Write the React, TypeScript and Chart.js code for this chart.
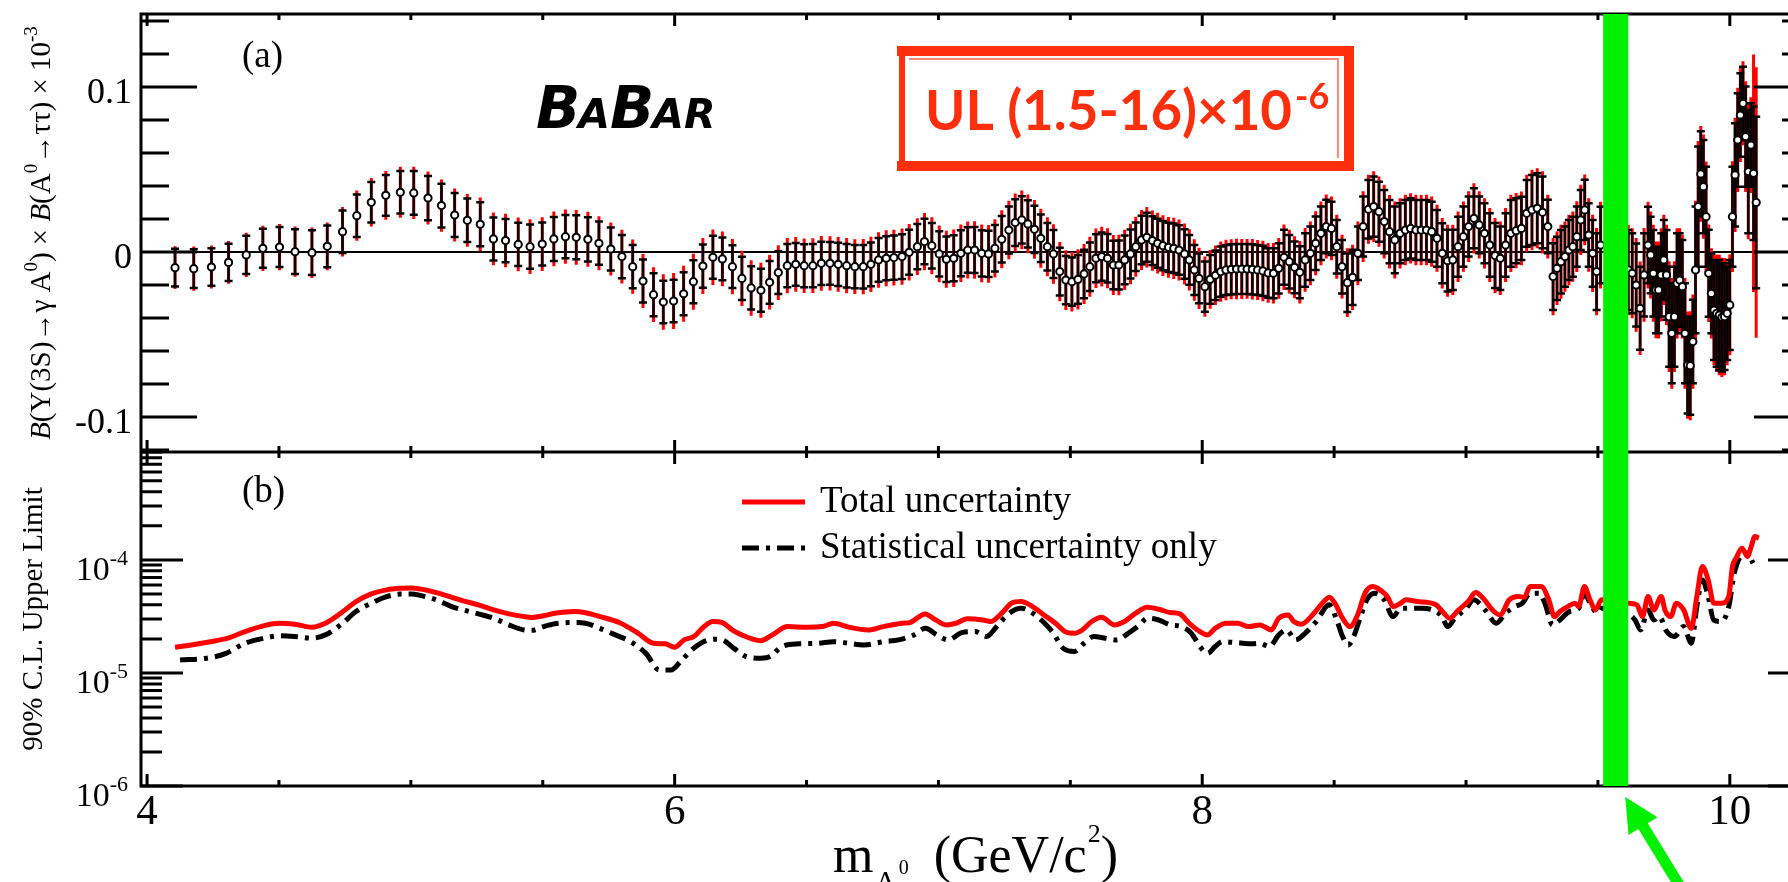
import React, { useEffect, useRef } from 'react';
import { Chart, registerables } from 'chart.js';

Chart.register(...registerables);

// ---------------------------------------------------------------------------
// (a) B(Υ(3S)→γA0)×B(A0→ττ) scan, in units of 10^-3
// ---------------------------------------------------------------------------
const MASS_A = [
  4.106, 4.177, 4.244, 4.309, 4.376, 4.439, 4.502, 4.561, 4.625, 4.683,
  4.741, 4.795, 4.850, 4.905, 4.960, 5.011, 5.065, 5.116, 5.166, 5.214,
  5.263, 5.313, 5.359, 5.407, 5.452, 5.498, 5.542, 5.586, 5.627, 5.671, 5.713,
  5.758, 5.800, 5.841, 5.880, 5.920, 5.957, 5.996, 6.034, 6.071, 6.107,
  6.145, 6.181, 6.219, 6.255, 6.290, 6.327, 6.360, 6.393, 6.427, 6.459,
  6.491, 6.524, 6.556, 6.589, 6.620, 6.652, 6.683, 6.715, 6.744, 6.773,
  6.802, 6.831, 6.862, 6.889, 6.920, 6.947, 6.975, 7.003, 7.030, 7.058,
  7.085, 7.111, 7.137, 7.164, 7.190, 7.214, 7.240, 7.267, 7.291, 7.316,
  7.339, 7.364, 7.388, 7.413, 7.436, 7.460, 7.483, 7.506, 7.529, 7.552,
  7.574, 7.597, 7.619, 7.641, 7.663, 7.684, 7.706, 7.728, 7.748, 7.770,
  7.790, 7.811, 7.831, 7.851, 7.872, 7.892, 7.912, 7.933, 7.951, 7.970, 7.988,
  8.01, 8.03, 8.05, 8.07, 8.09, 8.11, 8.13, 8.15, 8.17, 8.19,
  8.21, 8.23, 8.25, 8.27, 8.29, 8.31, 8.33, 8.35, 8.37, 8.39,
  8.41, 8.43, 8.45, 8.47, 8.49, 8.51, 8.53, 8.55, 8.57, 8.59,
  8.61, 8.63, 8.65, 8.67, 8.69, 8.71, 8.73, 8.75, 8.77, 8.79,
  8.81, 8.83, 8.85, 8.87, 8.89, 8.91, 8.93, 8.95, 8.97, 8.99,
  9.01, 9.03, 9.05, 9.07, 9.09, 9.11, 9.13, 9.15, 9.17, 9.19,
  9.21, 9.23, 9.25, 9.27, 9.29, 9.31,
  9.33, 9.345, 9.36, 9.375, 9.39, 9.405, 9.42, 9.435, 9.45, 9.465, 9.48, 9.495, 9.51,
  9.615, 9.63, 9.645, 9.66, 9.675, 9.69,
  9.70, 9.71, 9.72, 9.73, 9.74, 9.75, 9.76, 9.77, 9.78, 9.79,
  9.80, 9.81, 9.82, 9.83, 9.84, 9.85, 9.86, 9.87, 9.88, 9.89,
  9.90, 9.91, 9.92, 9.93, 9.94, 9.95, 9.96, 9.97, 9.98, 9.99,
  10.00, 10.01, 10.02, 10.03, 10.04, 10.05, 10.06, 10.07, 10.08, 10.09, 10.10,
];

const BF_A = [
  -0.0095, -0.0101, -0.0091, -0.0063, -0.0018, 0.0022, 0.0030, 0.0002, -0.0004, 0.0034,
  0.0123, 0.0220, 0.0301, 0.0343, 0.0362, 0.0358, 0.0327, 0.0281, 0.0224, 0.0192,
  0.0168, 0.0079, 0.0069, 0.0046, 0.0032, 0.0048, 0.0079, 0.0093, 0.0089, 0.0077, 0.0053,
  0.0018, -0.0028, -0.0089, -0.0176, -0.0259, -0.0303, -0.0297, -0.0253, -0.0180, -0.0085,
  -0.0032, -0.0042, -0.0089, -0.0160, -0.0218, -0.0232, -0.0184, -0.0125, -0.0083, -0.0075,
  -0.0083, -0.0083, -0.0069, -0.0069, -0.0075, -0.0083, -0.0089, -0.0089, -0.0075, -0.0048,
  -0.0038, -0.0034, -0.0028, -0.0002, 0.0032, 0.0063, 0.0038, -0.0012, -0.0044, -0.0038,
  -0.0008, 0.0012, 0.0012, -0.0008, -0.0012, 0.0022, 0.0077, 0.0133, 0.0178, 0.0194,
  0.0170, 0.0137, 0.0083, 0.0032, -0.0012, -0.0119, -0.0170, -0.0180, -0.0166, -0.0133,
  -0.0089, -0.0038, -0.0028, -0.0038, -0.0079, -0.0079, -0.0048, -0.0012, 0.0032, 0.0073,
  0.0089, 0.0069, 0.0053, 0.0038, 0.0028, 0.0022, 0.0012, -0.0012, -0.0048, -0.0109, -0.0160,
  -0.0210, -0.0166, -0.0141, -0.0119, -0.0109, -0.0105, -0.0103, -0.0103, -0.0103, -0.0105,
  -0.0109, -0.0115, -0.0127, -0.0129, -0.0099, -0.0032, -0.0059, -0.0093, -0.0123, -0.0048,
  -0.0008, 0.0053, 0.0113, 0.0154, 0.0143, 0.0032, -0.0089, -0.0186, -0.0154, -0.0008,
  0.0154, 0.0259, 0.0275, 0.0244, 0.0184, 0.0123, 0.0073, 0.0113, 0.0133, 0.0143,
  0.0133, 0.0133, 0.0133, 0.0123, 0.0083, -0.0008, -0.0053, -0.0048, 0.0032, 0.0093,
  0.0154, 0.0204, 0.0164, 0.0113, 0.0042, -0.0022, -0.0038, 0.0042, 0.0113, 0.0129,
  0.0143, 0.0234, 0.0255, 0.0265, 0.0240, 0.0154,
  -0.0149, -0.0099, -0.0059, -0.0028, 0.0012, 0.0032, 0.0093, 0.0194, 0.0255, 0.0103, -0.0008, -0.0119, 0.0042,
  -0.0109, -0.0129, -0.0200, -0.0341, -0.0139, 0.0042,
  -0.0018, -0.0129, -0.0230, -0.0230, -0.0139, -0.0048, -0.0139, -0.0392, -0.0493, -0.0392,
  -0.0190, -0.0170, -0.0210, -0.0493, -0.0685, -0.0689, -0.0543, -0.0109, 0.0275, 0.0473,
  0.0396, 0.0214, -0.0129, -0.0251, -0.0352, -0.0372, -0.0382, -0.0396, -0.0392, -0.0372,
  -0.0321, 0.0214, 0.0467, 0.0679, 0.0830, 0.0901, 0.0699, 0.0487, 0.0648, 0.0477, 0.0300,
];

// statistical uncertainty (black bars)
const STAT_A = [
  0.0114, 0.0118, 0.0114, 0.0113, 0.0116, 0.0118, 0.0121, 0.0135, 0.0136, 0.0126,
  0.0129, 0.0129, 0.0123, 0.0123, 0.0129, 0.0132, 0.0134, 0.0132, 0.0133, 0.0132,
  0.0133, 0.0130, 0.0131, 0.0131, 0.0134, 0.0130, 0.0133, 0.0131, 0.0133, 0.0134, 0.0131,
  0.0130, 0.0131, 0.0131, 0.0130, 0.0130, 0.0129, 0.0129, 0.0130, 0.0130, 0.0131,
  0.0130, 0.0129, 0.0130, 0.0131, 0.0131, 0.0130, 0.0129, 0.0130, 0.0131, 0.0130,
  0.0130, 0.0131, 0.0131, 0.0130, 0.0131, 0.0132, 0.0131, 0.0132, 0.0133, 0.0133,
  0.0134, 0.0134, 0.0135, 0.0136, 0.0137, 0.0138, 0.0138, 0.0137, 0.0138, 0.0139,
  0.0139, 0.0138, 0.0139, 0.0140, 0.0140, 0.0141, 0.0141, 0.0142, 0.0142, 0.0143,
  0.0143, 0.0143, 0.0144, 0.0144, 0.0145, 0.0145, 0.0146, 0.0146, 0.0147, 0.0147,
  0.0147, 0.0146, 0.0146, 0.0147, 0.0147, 0.0148, 0.0148, 0.0148, 0.0147, 0.0147,
  0.0148, 0.0148, 0.0149, 0.0149, 0.0149, 0.0150, 0.0150, 0.0150, 0.0151, 0.0151, 0.0151,
  0.0152, 0.0148, 0.0150, 0.0152, 0.0152, 0.0152, 0.0152, 0.0152, 0.0151, 0.0152,
  0.0152, 0.0152, 0.0150, 0.0152, 0.0152, 0.0167, 0.0162, 0.0157, 0.0157, 0.0162,
  0.0162, 0.0162, 0.0162, 0.0162, 0.0162, 0.0162, 0.0162, 0.0177, 0.0167, 0.0162,
  0.0182, 0.0177, 0.0182, 0.0182, 0.0192, 0.0192, 0.0202, 0.0182, 0.0182, 0.0182,
  0.0182, 0.0182, 0.0182, 0.0182, 0.0172, 0.0182, 0.0187, 0.0182, 0.0182, 0.0182,
  0.0182, 0.0182, 0.0172, 0.0182, 0.0192, 0.0197, 0.0192, 0.0192, 0.0202, 0.0197,
  0.0192, 0.0202, 0.0212, 0.0212, 0.0217, 0.0162,
  0.0202, 0.0192, 0.0192, 0.0182, 0.0182, 0.0182, 0.0182, 0.0182, 0.0182, 0.0192, 0.0202, 0.0232, 0.0232,
  0.0242, 0.0242, 0.0252, 0.0252, 0.0252, 0.0232,
  0.0232, 0.0262, 0.0262, 0.0262, 0.0252, 0.0242, 0.0272, 0.0303, 0.0303, 0.0303,
  0.0303, 0.0283, 0.0283, 0.0303, 0.0293, 0.0298, 0.0253, 0.0384, 0.0364, 0.0258,
  0.0283, 0.0303, 0.0263, 0.0242, 0.0303, 0.0323, 0.0333, 0.0328, 0.0323, 0.0283,
  0.0273, 0.0303, 0.0313, 0.0283, 0.0253, 0.0222, 0.0303, 0.0374, 0.0253, 0.0404, 0.0520,
];

// total (stat + syst) uncertainty (red bars)
const TOT_A = [
  0.0130, 0.0134, 0.0131, 0.0130, 0.0134, 0.0137, 0.0140, 0.0152, 0.0153, 0.0145,
  0.0150, 0.0152, 0.0147, 0.0148, 0.0155, 0.0158, 0.0160, 0.0158, 0.0160, 0.0160,
  0.0162, 0.0160, 0.0162, 0.0163, 0.0166, 0.0163, 0.0166, 0.0164, 0.0166, 0.0167, 0.0164,
  0.0160, 0.0163, 0.0164, 0.0164, 0.0166, 0.0168, 0.0169, 0.0170, 0.0170, 0.0170,
  0.0168, 0.0166, 0.0167, 0.0168, 0.0168, 0.0167, 0.0165, 0.0166, 0.0167, 0.0166,
  0.0165, 0.0166, 0.0166, 0.0165, 0.0166, 0.0167, 0.0166, 0.0167, 0.0168, 0.0168,
  0.0169, 0.0169, 0.0170, 0.0171, 0.0172, 0.0173, 0.0173, 0.0172, 0.0173, 0.0174,
  0.0174, 0.0173, 0.0174, 0.0175, 0.0175, 0.0176, 0.0176, 0.0177, 0.0177, 0.0178,
  0.0178, 0.0178, 0.0179, 0.0179, 0.0180, 0.0180, 0.0181, 0.0181, 0.0182, 0.0182,
  0.0182, 0.0181, 0.0181, 0.0182, 0.0182, 0.0183, 0.0183, 0.0183, 0.0182, 0.0182,
  0.0183, 0.0183, 0.0184, 0.0184, 0.0184, 0.0185, 0.0185, 0.0185, 0.0186, 0.0186, 0.0186,
  0.0182, 0.0178, 0.0180, 0.0182, 0.0183, 0.0182, 0.0183, 0.0182, 0.0181, 0.0183,
  0.0182, 0.0183, 0.0181, 0.0183, 0.0184, 0.0198, 0.0193, 0.0188, 0.0189, 0.0193,
  0.0193, 0.0194, 0.0193, 0.0194, 0.0193, 0.0194, 0.0193, 0.0208, 0.0198, 0.0193,
  0.0214, 0.0209, 0.0214, 0.0213, 0.0223, 0.0223, 0.0233, 0.0213, 0.0214, 0.0213,
  0.0214, 0.0213, 0.0214, 0.0213, 0.0203, 0.0214, 0.0218, 0.0213, 0.0214, 0.0213,
  0.0214, 0.0213, 0.0204, 0.0213, 0.0224, 0.0228, 0.0223, 0.0224, 0.0234, 0.0228,
  0.0224, 0.0234, 0.0244, 0.0243, 0.0249, 0.0193,
  0.0234, 0.0223, 0.0224, 0.0213, 0.0214, 0.0213, 0.0214, 0.0213, 0.0214, 0.0223, 0.0234, 0.0264, 0.0263,
  0.0274, 0.0273, 0.0284, 0.0283, 0.0284, 0.0263,
  0.0264, 0.0294, 0.0293, 0.0294, 0.0283, 0.0274, 0.0304, 0.0336, 0.0335, 0.0336,
  0.0334, 0.0314, 0.0315, 0.0336, 0.0325, 0.0330, 0.0285, 0.0420, 0.0398, 0.0290,
  0.0316, 0.0335, 0.0295, 0.0274, 0.0335, 0.0356, 0.0365, 0.0361, 0.0355, 0.0315,
  0.0305, 0.0336, 0.0346, 0.0316, 0.0285, 0.0255, 0.0336, 0.0410, 0.0290, 0.0720, 0.0820,
];

// ---------------------------------------------------------------------------
// (b) 90% C.L. upper limits, in units of 10^-5
// ---------------------------------------------------------------------------
const UL_UNIT = 1e-5;

const UL_TOT_MASS = [
  4.106, 4.168, 4.241, 4.306, 4.371, 4.444, 4.502, 4.560, 4.625, 4.676,
  4.734, 4.792, 4.850, 4.908, 4.966, 5.002, 5.039, 5.097, 5.155, 5.198,
  5.256, 5.314, 5.372, 5.430, 5.459, 5.503, 5.546, 5.619, 5.662,
  5.717, 5.790, 5.862, 5.920, 5.964, 6.000, 6.036, 6.073, 6.109, 6.145,
  6.181, 6.218, 6.254, 6.327, 6.370, 6.428, 6.501, 6.559, 6.602, 6.660,
  6.733, 6.791, 6.863, 6.892, 6.950, 6.979, 7.030, 7.066, 7.110, 7.168,
  7.197, 7.240, 7.277, 7.313, 7.357, 7.400, 7.444, 7.480, 7.516, 7.545,
  7.581, 7.618, 7.668, 7.705, 7.748, 7.792, 7.835, 7.879, 7.915, 7.951,
  7.992, 8.020, 8.049, 8.091, 8.134, 8.176, 8.219, 8.262, 8.290, 8.326,
  8.347, 8.375, 8.418, 8.461, 8.482, 8.503, 8.532, 8.560, 8.589, 8.617,
  8.646, 8.674, 8.702, 8.724, 8.752, 8.773, 8.816, 8.859, 8.887, 8.916,
  8.937, 8.972, 9.008, 9.036, 9.065, 9.100, 9.129, 9.164, 9.200, 9.221,
  9.243, 9.285, 9.314, 9.335, 9.356, 9.385, 9.413, 9.427, 9.449, 9.470,
  9.491, 9.513, 9.612, 9.648, 9.669, 9.690, 9.712, 9.740, 9.754, 9.776,
  9.797, 9.825, 9.854, 9.875, 9.896, 9.918, 9.939, 9.968, 9.996, 10.010,
  10.024, 10.046, 10.067, 10.081, 10.095, 10.110,
];
const UL_TOT = [
  1.69, 1.77, 1.89, 2.03, 2.32, 2.62, 2.75, 2.70, 2.54, 2.75,
  3.37, 4.28, 5.00, 5.43, 5.61, 5.65, 5.51, 5.14, 4.67, 4.34,
  4.00, 3.61, 3.33, 3.15, 3.10, 3.21, 3.37, 3.49, 3.41,
  3.15, 2.79, 2.24, 1.83, 1.81, 1.69, 1.96, 2.10, 2.54, 2.85,
  2.79, 2.40, 2.17, 1.93, 2.17, 2.57, 2.54, 2.57, 2.75, 2.54,
  2.40, 2.57, 2.75, 2.79, 3.33, 3.05, 2.66, 2.75, 3.01, 2.94,
  2.85, 3.38, 4.14, 4.28, 3.86, 3.26, 2.75, 2.32, 2.24, 2.40,
  2.85, 3.11, 2.66, 2.85, 3.38, 3.81, 3.66, 3.42, 3.33, 2.75,
  2.32, 2.17, 2.48, 2.75, 2.75, 2.57, 2.66, 2.40, 3.05, 3.26,
  2.85, 2.70, 3.26, 4.28, 4.68, 4.14, 3.05, 2.57, 3.26, 5.07,
  5.81, 5.43, 4.74, 3.86, 4.14, 4.43, 4.28, 4.19, 4.00, 3.38,
  3.05, 3.61, 4.28, 5.14, 4.58, 3.61, 3.26, 4.43, 4.74, 4.68,
  5.81, 5.81, 4.43, 3.15, 3.49, 3.86, 4.14, 3.86, 5.81, 4.43,
  3.61, 4.43, 4.14, 4.00, 3.15, 4.74, 3.61, 4.74, 3.61, 3.15,
  4.14, 3.61, 2.48, 4.74, 8.73, 6.65, 4.14, 4.14, 4.74, 8.73,
  10.35, 12.7, 10.7, 13.1, 16.1, 15.6,
];

const UL_STAT_MASS = [
  4.125, 4.226, 4.299, 4.371, 4.444, 4.502, 4.560, 4.625, 4.676, 4.734,
  4.792, 4.850, 4.908, 4.966, 5.002, 5.039, 5.097, 5.155, 5.198, 5.256,
  5.314, 5.372, 5.430, 5.459, 5.503, 5.546, 5.619, 5.662,
  5.717, 5.761, 5.833, 5.891, 5.942, 5.986, 6.022, 6.065, 6.109, 6.152,
  6.181, 6.225, 6.269, 6.327, 6.363, 6.406, 6.472, 6.544, 6.602, 6.660,
  6.718, 6.791, 6.849, 6.907, 6.950, 6.994, 7.037, 7.088, 7.139, 7.182,
  7.226, 7.269, 7.313, 7.357, 7.400, 7.436, 7.473, 7.516, 7.552, 7.589,
  7.632, 7.676, 7.719, 7.763, 7.792, 7.835, 7.879, 7.922, 7.959,
  7.992, 8.020, 8.049, 8.077, 8.134, 8.191, 8.219, 8.255, 8.290, 8.319,
  8.354, 8.390, 8.432, 8.482, 8.510, 8.532, 8.553, 8.574, 8.596, 8.624,
  8.653, 8.688, 8.724, 8.752, 8.788, 8.830, 8.873, 8.909, 8.930, 8.958,
  9.001, 9.029, 9.072, 9.115, 9.150, 9.186, 9.214, 9.243, 9.278, 9.299,
  9.328, 9.356, 9.392, 9.427, 9.449, 9.470, 9.498, 9.513, 9.612, 9.641,
  9.662, 9.690, 9.712, 9.733, 9.761, 9.790, 9.825, 9.854, 9.875, 9.896,
  9.918, 9.939, 9.968, 9.996, 10.017, 10.046, 10.067, 10.088,
];
const UL_STAT = [
  1.30, 1.35, 1.49, 1.83, 2.03, 2.13, 2.10, 2.03, 2.17, 2.66,
  3.49, 4.14, 4.73, 5.00, 5.00, 4.83, 4.43, 3.86, 3.61, 3.33,
  3.05, 2.66, 2.40, 2.38, 2.57, 2.72, 2.79, 2.75,
  2.48, 2.24, 1.89, 1.49, 1.06, 1.06, 1.26, 1.60, 1.89, 1.99,
  1.96, 1.65, 1.40, 1.35, 1.40, 1.71, 1.81, 1.83, 1.89, 1.83,
  1.77, 1.89, 1.96, 2.17, 2.48, 2.17, 1.96, 2.27, 2.32, 2.10,
  2.66, 3.38, 3.73, 3.38, 2.79, 2.24, 1.65, 1.55, 1.83, 2.10,
  2.03, 1.96, 2.24, 2.66, 3.05, 2.94, 2.66, 2.57, 2.24,
  1.70, 1.49, 1.71, 1.89, 1.85, 1.81, 1.83, 1.71, 2.17, 2.40,
  1.96, 2.24, 2.85, 4.00, 2.94, 2.10, 1.77, 2.10, 2.94, 4.43,
  5.07, 4.49, 3.15, 3.73, 3.73, 3.73, 3.61, 3.15, 2.57, 3.05,
  3.73, 4.43, 3.61, 2.75, 3.38, 3.86, 4.14, 5.07, 5.07, 4.14,
  2.66, 2.94, 3.49, 3.73, 5.07, 4.14, 3.38, 3.73, 3.38, 2.94,
  2.40, 3.61, 2.94, 3.15, 2.32, 2.10, 2.57, 1.83, 3.86, 6.65,
  4.74, 2.94, 2.85, 3.86, 7.62, 11.1, 11.5, 9.35,
];

// axis ranges and labels
const X_RANGE = [3.977, 10.304];
const X_TICK_LABELS = [4, 6, 8, 10];
const YA_RANGE = [-0.1212, 0.1442];
const YA_TICK_LABELS = [0.1, 0, -0.1];
const YB_RANGE = [1e-6, 9e-4];
const YB_TICK_EXPONENTS = [-4, -5, -6];
const EXCLUDED_MASS = [9.52, 9.615];
const LEGEND_LABELS = ['Total uncertainty', 'Statistical uncertainty only'];

// ---------------------------------------------------------------------------
const CANVAS_W = 1830;
const CANVAS_H = 882;
const VIEW_W = 1788;
const SERIF = '"Liberation Serif", "DejaVu Serif", "Times New Roman", serif';
const SANS = '"Liberation Sans", Arial, sans-serif';
const LOGO_FONT = '"DejaVu Sans", "Liberation Sans", sans-serif';
const TOTAL_RED = '#ff0000';
const STAMP_RED = '#ff2e0c';
const BAND_GREEN = '#00f000';
const DASH_DOT = [17, 7, 4, 7];

type Run = { t: string; size: number; dy?: number; dx?: number; italic?: boolean; bold?: boolean };

function runFont(r: Run, family: string) {
  return `${r.italic ? 'italic ' : ''}${r.bold ? 'bold ' : ''}${r.size}px ${family}`;
}
function runsWidth(ctx: CanvasRenderingContext2D, runs: Run[], family: string) {
  let w = 0;
  for (const r of runs) {
    ctx.font = runFont(r, family);
    w += (r.dx || 0) + ctx.measureText(r.t).width;
  }
  return w;
}
function drawRuns(ctx: CanvasRenderingContext2D, runs: Run[], family: string, x: number, y: number) {
  let cx = x;
  ctx.textAlign = 'left';
  ctx.textBaseline = 'alphabetic';
  for (const r of runs) {
    ctx.font = runFont(r, family);
    cx += r.dx || 0;
    ctx.fillText(r.t, cx, y + (r.dy || 0));
    cx += ctx.measureText(r.t).width;
  }
}
function seg(ctx: CanvasRenderingContext2D, x1: number, y1: number, x2: number, y2: number) {
  ctx.moveTo(x1, y1);
  ctx.lineTo(x2, y2);
}

const errorBarPlugin = {
  id: 'errorBars',
  beforeDatasetsDraw(chart: any) {
    const { ctx, chartArea: ca } = chart;
    const xs = chart.scales.x;
    const ya = chart.scales.yA;
    const n = Math.min(MASS_A.length, BF_A.length, STAT_A.length, TOT_A.length);
    ctx.save();
    ctx.beginPath();
    ctx.rect(ca.left, ya.top, ca.right - ca.left, ya.bottom - ya.top);
    ctx.clip();

    // y = 0 reference line
    const y0 = ya.getPixelForValue(0);
    ctx.strokeStyle = '#000';
    ctx.lineWidth = 2;
    ctx.beginPath();
    seg(ctx, ca.left, y0, ca.right, y0);
    ctx.stroke();

    // total uncertainty
    ctx.strokeStyle = TOTAL_RED;
    ctx.lineWidth = 3;
    ctx.beginPath();
    for (let i = 0; i < n; i++) {
      const x = xs.getPixelForValue(MASS_A[i]);
      seg(ctx, x, ya.getPixelForValue(BF_A[i] + TOT_A[i]), x, ya.getPixelForValue(BF_A[i] - TOT_A[i]));
    }
    ctx.stroke();

    // statistical uncertainty with end caps
    ctx.strokeStyle = '#000';
    ctx.lineWidth = 2.5;
    ctx.beginPath();
    for (let i = 0; i < n; i++) {
      const x = xs.getPixelForValue(MASS_A[i]);
      const yt = ya.getPixelForValue(BF_A[i] + STAT_A[i]);
      const yb = ya.getPixelForValue(BF_A[i] - STAT_A[i]);
      seg(ctx, x, yt, x, yb);
      seg(ctx, x - 4, yt, x + 4, yt);
      seg(ctx, x - 4, yb, x + 4, yb);
    }
    ctx.stroke();
    ctx.restore();
  },
};

const framePlugin = {
  id: 'frameAndText',
  afterDraw(chart: any) {
    const { ctx, chartArea: ca } = chart;
    const xs = chart.scales.x;
    const ya = chart.scales.yA;
    const yb = chart.scales.yB;
    const L = ca.left;
    const R = ca.right;
    const T = ya.top;
    const M = ya.bottom;
    const B = yb.bottom;

    ctx.save();
    ctx.strokeStyle = '#000';
    ctx.fillStyle = '#000';
    ctx.lineCap = 'butt';
    ctx.lineWidth = 3;

    // x ticks: every 0.5, long ones at labelled values
    ctx.beginPath();
    for (let k = Math.ceil(X_RANGE[0] * 2); k <= Math.floor(X_RANGE[1] * 2); k++) {
      const x = xs.getPixelForValue(k / 2);
      const len = k % 4 === 0 ? 12 : 6;
      seg(ctx, x, T, x, T + len);
      seg(ctx, x, M - len, x, M);
      seg(ctx, x, M, x, M + len);
      seg(ctx, x, B - len, x, B);
    }
    // panel (a) y ticks every 0.02
    for (let k = -6; k <= 7; k++) {
      const v = k * 0.02;
      if (v < YA_RANGE[0] || v > YA_RANGE[1]) continue;
      const y = ya.getPixelForValue(v);
      const len = k % 5 === 0 ? 56 : 28;
      seg(ctx, L, y, L + len, y);
      seg(ctx, R - len, y, R, y);
    }
    // panel (b) logarithmic ticks
    for (let e = -6; e <= -4; e++) {
      for (let m = 1; m <= 9; m++) {
        const v = m * Math.pow(10, e);
        if (v < YB_RANGE[0] * 0.999 || v > YB_RANGE[1] * 1.001) continue;
        const y = yb.getPixelForValue(v);
        const len = m === 1 ? 42 : 21;
        seg(ctx, L, y, L + len, y);
        seg(ctx, R - len, y, R, y);
      }
    }
    ctx.stroke();

    // frames
    ctx.strokeRect(L, T, R - L, B - T);
    ctx.beginPath();
    seg(ctx, L, M, R, M);
    ctx.stroke();

    // x tick labels
    ctx.font = `43px ${SERIF}`;
    ctx.textAlign = 'center';
    ctx.textBaseline = 'alphabetic';
    X_TICK_LABELS.forEach((v) => ctx.fillText(String(v), xs.getPixelForValue(v), B + 38));

    // panel (a) y labels
    ctx.font = `36px ${SERIF}`;
    ctx.textAlign = 'right';
    YA_TICK_LABELS.forEach((v) => ctx.fillText(String(v), L - 9, ya.getPixelForValue(v) + 16));

    // panel (b) y labels 10^n
    YB_TICK_EXPONENTS.forEach((e) => {
      const y = yb.getPixelForValue(Math.pow(10, e));
      ctx.font = `22px ${SERIF}`;
      const exp = String(e);
      const we = ctx.measureText(exp).width;
      ctx.textAlign = 'left';
      ctx.fillText(exp, L - 13 - we, y + 5);
      ctx.font = `34px ${SERIF}`;
      ctx.textAlign = 'right';
      ctx.fillText('10', L - 13 - we, y + 20);
    });

    // panel tags
    ctx.font = `37px ${SERIF}`;
    ctx.textAlign = 'left';
    ctx.fillText('(a)', L + 101, T + 53);
    ctx.fillText('(b)', L + 101, M + 50);

    // axis titles
    const titleA: Run[] = [
      { t: 'B', size: 29, italic: true },
      { t: '(Υ(3S)→γ A', size: 29 },
      { t: '0', size: 19, dy: -13 },
      { t: ') × ', size: 29 },
      { t: 'B', size: 29, italic: true },
      { t: '(A', size: 29 },
      { t: '0', size: 19, dy: -13 },
      { t: '→ττ) × 10', size: 29 },
      { t: '-3', size: 19, dy: -13 },
    ];
    ctx.save();
    ctx.translate(50, (T + M) / 2);
    ctx.rotate(-Math.PI / 2);
    drawRuns(ctx, titleA, SERIF, -runsWidth(ctx, titleA, SERIF) / 2, 0);
    ctx.restore();

    const titleB: Run[] = [{ t: '90% C.L. Upper Limit', size: 29 }];
    ctx.save();
    ctx.translate(42, (M + B) / 2);
    ctx.rotate(-Math.PI / 2);
    drawRuns(ctx, titleB, SERIF, -runsWidth(ctx, titleB, SERIF) / 2, 0);
    ctx.restore();

    const titleX: Run[] = [
      { t: 'm', size: 52 },
      { t: 'A', size: 28, dy: 18, dx: 2 },
      { t: '0', size: 20, dy: 2, dx: 3 },
      { t: ' (GeV/c', size: 52, dx: 12 },
      { t: '2', size: 26, dy: -30, dx: 1 },
      { t: ')', size: 52 },
    ];
    drawRuns(ctx, titleX, SERIF, (L + R) / 2 - runsWidth(ctx, titleX, SERIF) / 2, B + 86);

    // legend
    const legX = 742;
    ctx.lineWidth = 5;
    ctx.strokeStyle = TOTAL_RED;
    ctx.beginPath();
    seg(ctx, legX, M + 50, legX + 63, M + 50);
    ctx.stroke();
    ctx.strokeStyle = '#000';
    ctx.setLineDash(DASH_DOT);
    ctx.beginPath();
    seg(ctx, legX, M + 96, legX + 63, M + 96);
    ctx.stroke();
    ctx.setLineDash([]);
    ctx.font = `37px ${SERIF}`;
    ctx.textAlign = 'left';
    ctx.fillText(LEGEND_LABELS[0], legX + 78, M + 60);
    ctx.fillText(LEGEND_LABELS[1], legX + 78, M + 106);

    // experiment logo
    const logo: Run[] = [
      { t: 'B', size: 58, bold: true, italic: true },
      { t: 'A', size: 41, bold: true, italic: true, dx: -2 },
      { t: 'B', size: 58, bold: true, italic: true, dx: 0 },
      { t: 'AR', size: 41, bold: true, italic: true, dx: -2 },
    ];
    ctx.fillStyle = '#000';
    drawRuns(ctx, logo, LOGO_FONT, 536, 128);

    // upper-limit stamp
    const bx = 898, by = 46, bw = 456, bh = 125;
    ctx.strokeStyle = STAMP_RED;
    ctx.lineCap = 'square';
    ctx.lineWidth = 10;
    ctx.beginPath();
    seg(ctx, bx + 4, by + 5, bx + bw - 5, by + 5);
    seg(ctx, bx + bw - 5, by + 5, bx + bw - 5, by + bh - 5);
    seg(ctx, bx + 4, by + bh - 5, bx + bw - 5, by + bh - 5);
    ctx.stroke();
    ctx.lineWidth = 6;
    ctx.beginPath();
    seg(ctx, bx + 4, by + 5, bx + 4, by + bh - 5);
    ctx.stroke();
    ctx.globalAlpha = 0.55;
    ctx.lineWidth = 2;
    ctx.beginPath();
    seg(ctx, bx + 12, by + 13, bx + bw - 16, by + 13);
    seg(ctx, bx + bw - 16, by + 13, bx + bw - 16, by + bh - 14);
    ctx.stroke();
    ctx.globalAlpha = 1;

    ctx.fillStyle = STAMP_RED;
    ctx.font = `bold 56px Lato, ${SANS}`;
    ctx.textAlign = 'left';
    const ulText = 'UL (1.5-16)×10';
    const ulW = ctx.measureText(ulText).width;
    const sx = 367 / ulW;
    ctx.save();
    ctx.translate(925, 130);
    ctx.scale(sx, 1);
    ctx.fillText(ulText, 0, 0);
    ctx.restore();
    ctx.font = `bold 36px Lato, ${SANS}`;
    ctx.fillText('-6', 925 + 367 + 3, 109);

    // excluded Υ(1S) region
    const gx0 = xs.getPixelForValue(EXCLUDED_MASS[0]);
    const gx1 = xs.getPixelForValue(EXCLUDED_MASS[1]);
    ctx.fillStyle = BAND_GREEN;
    ctx.fillRect(gx0, T, gx1 - gx0, B - T);

    // pointer arrow below the axis
    const tipX = gx1 - 3;
    const tipY = B + 11;
    const ux = 0.522, uy = 0.853;
    const px = -uy, py = ux;
    const headLen = 34, headHalf = 17, shaft = 11;
    ctx.strokeStyle = BAND_GREEN;
    ctx.lineWidth = shaft;
    ctx.lineCap = 'butt';
    ctx.beginPath();
    seg(ctx, tipX + ux * (headLen - 4), tipY + uy * (headLen - 4), tipX + ux * 160, tipY + uy * 160);
    ctx.stroke();
    ctx.beginPath();
    ctx.moveTo(tipX, tipY);
    ctx.lineTo(tipX + ux * headLen + px * headHalf, tipY + uy * headLen + py * headHalf);
    ctx.lineTo(tipX + ux * headLen - px * headHalf, tipY + uy * headLen - py * headHalf);
    ctx.closePath();
    ctx.fill();

    ctx.restore();
  },
};

export default function App() {
  const canvasRef = useRef<HTMLCanvasElement | null>(null);

  useEffect(() => {
    const canvas = canvasRef.current;
    if (!canvas) return;

    const bfPoints = MASS_A.map((m, i) => ({ x: m, y: BF_A[i] }));
    const ulTot = UL_TOT_MASS.map((m, i) => ({ x: m, y: UL_TOT[i] * UL_UNIT }));
    const ulStat = UL_STAT_MASS.map((m, i) => ({ x: m, y: UL_STAT[i] * UL_UNIT }));

    const chart = new Chart(canvas, {
      type: 'scatter',
      data: {
        datasets: [
          {
            label: 'B(Υ(3S)→γA0)×B(A0→ττ)',
            data: bfPoints,
            xAxisID: 'x',
            yAxisID: 'yA',
            showLine: false,
            pointRadius: 3.6,
            pointBorderWidth: 2,
            pointBackgroundColor: '#ffffff',
            pointBorderColor: '#000000',
          },
          {
            type: 'line',
            label: LEGEND_LABELS[0],
            data: ulTot,
            xAxisID: 'x',
            yAxisID: 'yB',
            borderColor: TOTAL_RED,
            borderWidth: 5,
            pointRadius: 0,
            fill: false,
            cubicInterpolationMode: 'monotone',
          },
          {
            type: 'line',
            label: LEGEND_LABELS[1],
            data: ulStat,
            xAxisID: 'x',
            yAxisID: 'yB',
            borderColor: '#000000',
            borderWidth: 5,
            borderDash: DASH_DOT,
            pointRadius: 0,
            fill: false,
            cubicInterpolationMode: 'monotone',
          },
        ],
      } as any,
      options: {
        responsive: false,
        animation: false,
        devicePixelRatio: 1,
        events: [],
        layout: { padding: { left: 141, right: CANVAS_W - 1810, top: 14, bottom: CANVAS_H - 786 } },
        plugins: { legend: { display: false }, tooltip: { enabled: false }, title: { display: false } },
        scales: {
          x: { type: 'linear', position: 'bottom', min: X_RANGE[0], max: X_RANGE[1], display: false },
          yA: {
            type: 'linear', position: 'left', min: YA_RANGE[0], max: YA_RANGE[1],
            stack: 'panels', stackWeight: 438, weight: 1, display: false,
          },
          yB: {
            type: 'logarithmic', position: 'left', min: YB_RANGE[0], max: YB_RANGE[1],
            stack: 'panels', stackWeight: 334, weight: 0, display: false,
          },
        },
      } as any,
      plugins: [errorBarPlugin, framePlugin],
    });

    return () => chart.destroy();
  }, []);

  return (
    <div style={{ position: 'fixed', left: 0, top: 0, width: VIEW_W, height: CANVAS_H, overflow: 'hidden', background: '#fff' }}>
      <canvas ref={canvasRef} width={CANVAS_W} height={CANVAS_H} style={{ display: 'block' }} />
    </div>
  );
}
